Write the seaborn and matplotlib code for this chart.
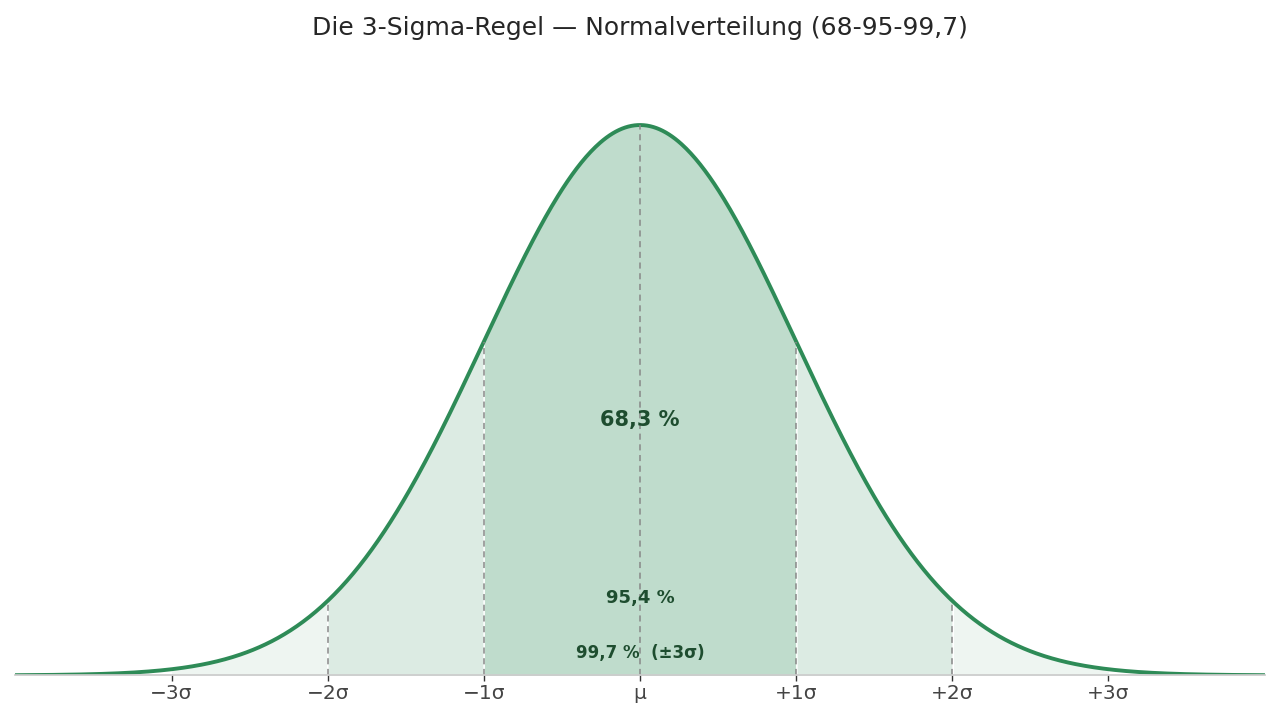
import numpy as np
import pandas as pd
import seaborn as sns
import matplotlib.pyplot as plt

sns.set_theme(style="white")
plt.rcParams['font.family'] = ['DejaVu Sans']

# Normalverteilung (standardisiert)
mu = 0.0
sigma = 1.0
x_range = (-4.0, 4.0)

tick_pos = [-3, -2, -1, 0, 1, 2, 3]
tick_labels = ['\u22123\u03c3', '\u22122\u03c3', '\u22121\u03c3', '\u03bc', '+1\u03c3', '+2\u03c3', '+3\u03c3']
guide_pos = [-2, -1, 0, 1, 2]

# bands: (from, to, alpha)
bands = [(-3, -2, 0.08), (2, 3, 0.08), (-2, -1, 0.165), (1, 2, 0.165), (-1, 1, 0.30)]

labels = ['68,3 %', '95,4 %', '99,7 %  (\u00b13\u03c3)']
label_y = [0.185, 0.056, 0.016]
label_size = [15, 13, 12]

green = '#2e8b57'
text_green = '#1e4d2f'


def pdf(v):
    return np.exp(-0.5 * ((v - mu) / sigma) ** 2) / (sigma * np.sqrt(2 * np.pi))


xs = np.linspace(x_range[0], x_range[1], 800)
df = pd.DataFrame({'x': xs, 'y': pdf(xs)})

fig, ax = plt.subplots(figsize=(12.8, 7.2), dpi=100)

for lo, hi, a in bands:
    seg = df[(df['x'] >= lo) & (df['x'] <= hi)]
    ax.fill_between(seg['x'], 0, seg['y'], color=green, alpha=a, linewidth=0)

sns.lineplot(data=df, x='x', y='y', ax=ax, color=green, linewidth=2.8)

for g in guide_pos:
    ax.plot([g, g], [0, pdf(g)], color='#888888', linestyle=(0, (4, 3)), linewidth=1.1)

for t, yy, fs in zip(labels, label_y, label_size):
    ax.text(0, yy, t, ha='center', va='center', fontsize=fs, fontweight='bold', color=text_green)

ax.set_xlim(*x_range)
ax.set_ylim(0, 0.44)
ax.set_xticks(tick_pos)
ax.set_xticklabels(tick_labels, fontsize=14.5, color='#444444')
ax.set_yticks([])
ax.set_xlabel('')
ax.set_ylabel('')
ax.tick_params(axis='x', bottom=True, length=4, width=1.0, color='#333333', pad=2)
for s in ['left', 'right', 'top']:
    ax.spines[s].set_visible(False)
ax.spines['bottom'].set_color('#cccccc')
ax.set_title('Die 3-Sigma-Regel \u2014 Normalverteilung (68-95-99,7)', fontsize=18, color='#262626', pad=24)

fig.subplots_adjust(left=0.012, right=0.988, top=0.905, bottom=0.062)
fig.savefig('out.png', dpi=100)
